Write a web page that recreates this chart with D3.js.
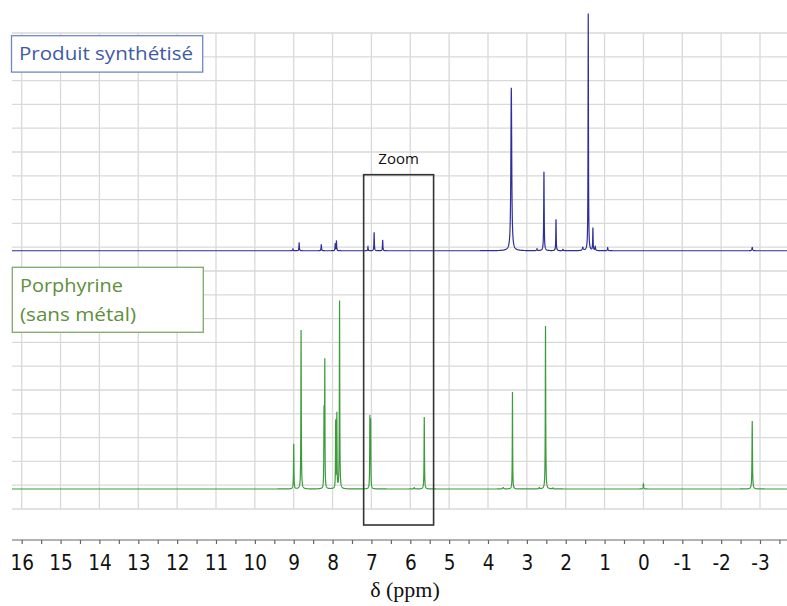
<!DOCTYPE html>
<html>
<head>
<meta charset="utf-8">
<script src="https://cdn.jsdelivr.net/npm/d3@7/dist/d3.min.js"></script>
<style>
  html, body { margin: 0; padding: 0; background: #fff; }
  svg { display: block; }
</style>
</head>
<body>
<svg id="chart" width="787" height="606"></svg>
<script>
// ---- Data ----
// Axis tick labels (ppm)
const tickLabels = [16, 15, 14, 13, 12, 11, 10, 9, 8, 7, 6, 5, 4, 3, 2, 1, 0, -1, -2, -3];

// Synthesised product spectrum (blue): peak positions (ppm), intensities (grid units), widths (ppm)
const bluePeakPpm    = [9.02, 8.86, 8.29, 7.93, 7.90, 7.09, 6.93, 6.71, 3.40, 2.74, 2.56, 2.25, 2.07, 1.56, 1.42, 1.30, 1.24, 0.92, -2.80];
const bluePeakHeight = [0.08, 0.35, 0.27, 0.30, 0.42, 0.17, 0.78, 0.45, 6.85, 0.08, 3.32, 1.32, 0.06, 0.13, 9.96, 0.95, 0.17, 0.13, 0.14];
const bluePeakWidth  = [0.008,0.006,0.006,0.006,0.006,0.006,0.006,0.006,0.013,0.008,0.007,0.006,0.008,0.015,0.006,0.006,0.008,0.008,0.01];

// Porphyrin (metal-free) spectrum (green)
const greenPeakPpm    = [9.00, 8.81, 8.22, 8.20, 7.92, 7.89, 7.82, 7.04, 7.02, 5.90, 5.64, 3.61, 3.37, 2.68, 2.52, 2.33, 0.00, -2.80];
const greenPeakHeight = [1.89, 6.68, 3.20, 5.30, 2.82, 3.11, 7.90, 2.94, 2.80, 0.06, 3.03, 0.06, 4.08, 0.06, 6.85, 0.04, 0.21, 2.86];
const greenPeakWidth  = [0.006,0.006,0.005,0.005,0.005,0.005,0.006,0.005,0.005,0.01,0.006,0.015,0.005,0.01,0.006,0.01,0.008,0.007];

// Baseline offsets of the two traces (grid units)
const blueBaseline = 10.85;
const greenBaseline = 0.84;

// Labels
const blueLabel = "Produit synthétisé";
const greenLabel = ["Porphyrine", "(sans métal)"];
const zoomLabel = "Zoom";
const axisTitle = "δ (ppm)";

// ---- Layout ----
const svg = d3.select("#chart");
const x = d3.scaleLinear().domain([16, -3]).range([21.7, 760]);
const y = d3.scaleLinear().domain([0, 20]).range([509, 33]);
const plotLeft = 12, plotRight = 787;

// Grid
const grid = svg.append("g").attr("stroke", "#d9d9d9").attr("stroke-width", 1.3);
grid.selectAll("line.v").data(tickLabels).join("line")
  .attr("x1", d => x(d)).attr("x2", d => x(d))
  .attr("y1", y(20)).attr("y2", y(0));
grid.selectAll("line.h").data(d3.range(0, 21)).join("line")
  .attr("x1", plotLeft).attr("x2", plotRight)
  .attr("y1", d => y(d)).attr("y2", d => y(d));

// Spectrum line shapes
const ppmDomain = [x.invert(plotLeft), x.invert(plotRight)];
function spectrum(pos, hts, wds, base) {
  let samples = d3.range(ppmDomain[0], ppmDomain[1], -0.003);
  samples = samples.concat(pos).sort((a, b) => b - a);
  return samples.map(p => {
    let v = base;
    for (let i = 0; i < pos.length; i++) {
      const g = wds[i], dx = p - pos[i];
      v += hts[i] * g * g / (dx * dx + g * g);
    }
    return [p, v];
  });
}
const line = d3.line().x(d => x(d[0])).y(d => y(d[1]));

svg.append("path")
  .datum(spectrum(greenPeakPpm, greenPeakHeight, greenPeakWidth, greenBaseline))
  .attr("d", line).attr("fill", "none")
  .attr("stroke", "#3c9c3c").attr("stroke-width", 1.2);

svg.append("path")
  .datum(spectrum(bluePeakPpm, bluePeakHeight, bluePeakWidth, blueBaseline))
  .attr("d", line).attr("fill", "none")
  .attr("stroke", "#2e2e98").attr("stroke-width", 1.2);

// Zoom rectangle (7.2 .. 5.4 ppm)
svg.append("rect")
  .attr("x", x(7.2)).attr("y", 174.7)
  .attr("width", x(5.4) - x(7.2)).attr("height", 525 - 174.7)
  .attr("fill", "none").attr("stroke", "#333").attr("stroke-width", 1.6);
svg.append("text")
  .attr("x", (x(7.2) + x(5.4)) / 2).attr("y", 164)
  .attr("text-anchor", "middle")
  .attr("font-family", "'Open Sans', sans-serif").attr("font-size", 15)
  .attr("fill", "#111").text(zoomLabel);

// Legend boxes
svg.append("rect").attr("x", 11.5).attr("y", 35.7).attr("width", 191.2).attr("height", 36.4)
  .attr("fill", "#fff").attr("stroke", "#6f88c4").attr("stroke-width", 1.3);
svg.append("text").attr("x", 19).attr("y", 60)
  .attr("font-family", "'Open Sans', sans-serif").attr("font-size", 18)
  .attr("fill", "#3e5ba6").attr("textLength", 174).attr("lengthAdjust", "spacingAndGlyphs")
  .text(blueLabel);

svg.append("rect").attr("x", 12.3).attr("y", 267.3).attr("width", 191).attr("height", 65)
  .attr("fill", "#fff").attr("stroke", "#80a868").attr("stroke-width", 1.3);
const gLen = [103, 116];
greenLabel.forEach((t, i) => {
  svg.append("text").attr("x", 20).attr("y", 292 + i * 29)
    .attr("font-family", "'Open Sans', sans-serif").attr("font-size", 18)
    .attr("fill", "#5e8f3c").attr("textLength", gLen[i]).attr("lengthAdjust", "spacingAndGlyphs")
    .text(t);
});

// Axis
const axisY = 540;
const axis = d3.axisBottom(x)
  .tickValues(d3.range(16, -3.51, -0.5))
  .tickSize(4)
  .tickFormat(d => Number.isInteger(d) ? String(d) : "");
const ag = svg.append("g").attr("transform", `translate(0,${axisY})`).call(axis);
ag.select(".domain").remove();
ag.append("line").attr("x1", plotLeft).attr("x2", plotRight).attr("y1", 0).attr("y2", 0)
  .attr("stroke", "#666").attr("stroke-width", 1.2);
ag.selectAll(".tick line").attr("stroke", "#666").attr("stroke-width", 1.2);
ag.selectAll(".tick text")
  .attr("y", 30).attr("dy", 0)
  .attr("font-family", "'DejaVu Sans Condensed', 'DejaVu Sans', sans-serif")
  .attr("font-stretch", "condensed")
  .attr("font-size", 20.5).attr("fill", "#111");

svg.append("text").attr("x", 405).attr("y", 597)
  .attr("text-anchor", "middle")
  .attr("font-family", "'Liberation Serif', 'DejaVu Serif', serif")
  .attr("font-size", 22).attr("fill", "#111").text(axisTitle);
</script>
</body>
</html>
